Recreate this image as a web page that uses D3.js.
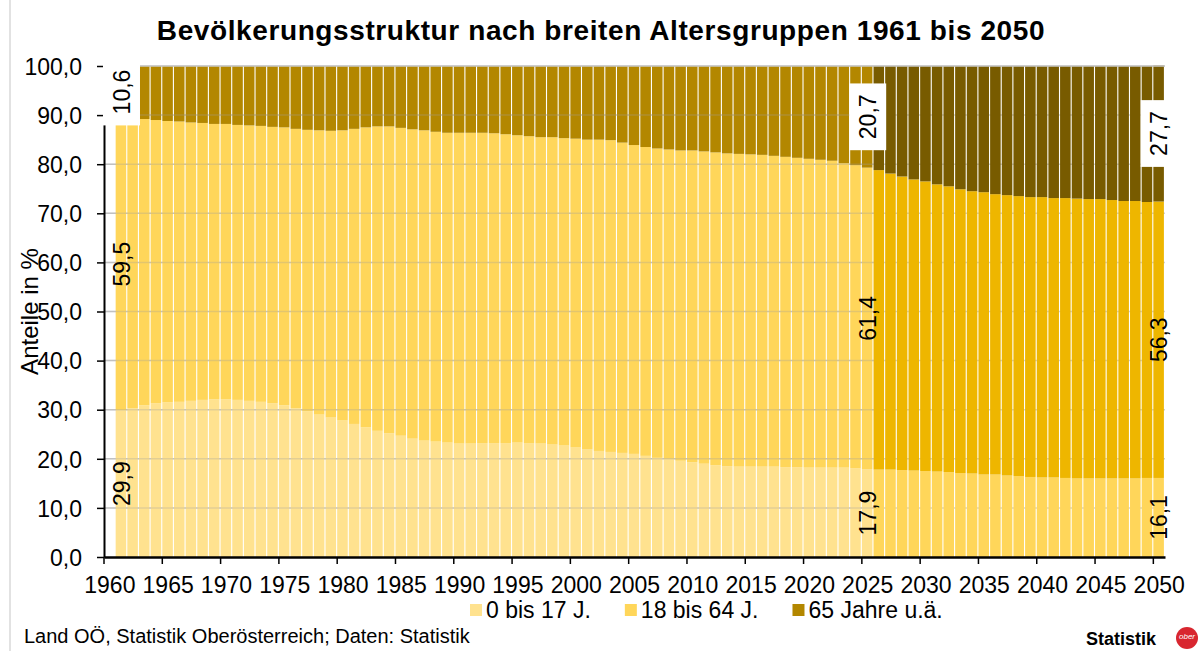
<!DOCTYPE html>
<html><head><meta charset="utf-8">
<script src="https://cdn.jsdelivr.net/npm/d3@7"></script>
<style>
body{margin:0;background:#fff}
svg{display:block}
text{font-family:"Liberation Sans",Arial,sans-serif;fill:#000}
</style>
</head><body>
<svg id="c" width="1199" height="651"></svg>
<script>
// ---- DATA ----
const years = [1961,1962,1963,1964,1965,1966,1967,1968,1969,1970,
1971,1972,1973,1974,1975,1976,1977,1978,1979,1980,
1981,1982,1983,1984,1985,1986,1987,1988,1989,1990,
1991,1992,1993,1994,1995,1996,1997,1998,1999,2000,
2001,2002,2003,2004,2005,2006,2007,2008,2009,2010,
2011,2012,2013,2014,2015,2016,2017,2018,2019,2020,
2021,2022,2023,2024,2025,2026,2027,2028,2029,2030,
2031,2032,2033,2034,2035,2036,2037,2038,2039,2040,
2041,2042,2043,2044,2045,2046,2047,2048,2049,2050];
// 0 bis 17 J.
const young = [29.9,30.3,30.9,31.3,31.5,31.6,31.8,32.0,32.1,32.1,
32.0,31.8,31.6,31.3,30.9,30.3,29.7,29.0,28.4,27.8,
27.1,26.4,25.7,25.2,24.7,24.1,23.7,23.5,23.3,23.1,
23.1,23.2,23.2,23.2,23.3,23.2,23.1,22.9,22.7,22.3,
21.9,21.6,21.4,21.2,21.0,20.6,20.2,20.0,19.6,19.3,
19.0,18.7,18.5,18.4,18.4,18.4,18.4,18.3,18.3,18.2,
18.2,18.2,18.2,18.1,17.9,17.8,17.8,17.7,17.6,17.5,
17.4,17.3,17.1,17.0,16.8,16.8,16.6,16.5,16.3,16.2,
16.2,16.1,16.0,16.0,16.0,16.0,16.0,16.0,16.1,16.1];
// 18 bis 64 J.
const working = [59.5,59.0,58.3,57.7,57.3,57.1,56.7,56.4,56.1,56.1,
56.0,56.1,56.2,56.3,56.6,56.9,57.3,57.9,58.4,59.1,
60.1,61.1,62.0,62.5,62.7,63.0,63.2,63.1,63.1,63.3,
63.3,63.2,63.1,62.9,62.6,62.5,62.4,62.6,62.6,62.9,
63.1,63.4,63.5,63.2,62.9,62.9,63.0,63.0,63.2,63.5,
63.6,63.7,63.7,63.7,63.6,63.5,63.3,63.2,63.0,62.9,
62.7,62.5,62.0,61.7,61.4,61.0,60.3,59.8,59.3,59.0,
58.5,58.2,57.8,57.5,57.5,57.1,57.1,57.0,57.0,57.1,
56.9,57.0,57.0,56.9,56.9,56.7,56.5,56.5,56.2,56.3];
// 65 Jahre u.ä.
const old = [10.6,10.7,10.8,11.0,11.2,11.3,11.5,11.6,11.8,11.8,
12.0,12.1,12.2,12.4,12.5,12.8,13.0,13.1,13.2,13.1,
12.8,12.5,12.3,12.3,12.6,12.9,13.1,13.4,13.6,13.6,
13.6,13.6,13.7,13.9,14.1,14.3,14.5,14.5,14.7,14.8,
15.0,15.0,15.1,15.6,16.1,16.5,16.8,17.0,17.2,17.2,
17.4,17.6,17.8,17.9,18.0,18.1,18.3,18.5,18.7,18.9,
19.1,19.3,19.8,20.2,20.7,21.2,21.9,22.5,23.1,23.5,
24.1,24.5,25.1,25.5,25.7,26.1,26.3,26.5,26.7,26.7,
26.9,26.9,27.0,27.1,27.1,27.3,27.5,27.5,27.7,27.7];

const projectionStart = 2026;
const axisYears = [1960].concat(years);
const xTickYears = [1960,1965,1970,1975,1980,1985,1990,1995,2000,2005,2010,2015,2020,2025,2030,2035,2040,2045,2050];
const yTicks = [0,10,20,30,40,50,60,70,80,90,100];
const keys = ["young","working","old"];
const seriesNames = ["0 bis 17 J.","18 bis 64 J.","65 Jahre u.ä."];
const histColors = ["#FFE28F","#FFD65A","#B38700"];
const projColors = ["#FFD65A","#EEB600","#785B00"];
const labelYears = [1961, 2025, 2050];
const title = "Bevölkerungsstruktur nach breiten Altersgruppen 1961 bis 2050";
const yTitle = "Anteile in %";
const source = "Land OÖ, Statistik Oberösterreich; Daten: Statistik";

// ---- CHART ----
const svg = d3.select("#c");
const fmt = v => v.toFixed(1).replace(".", ",");
const rows = years.map((y,i)=>({year:y, young:young[i], working:working[i], old:old[i]}));
const stack = d3.stack().keys(keys)(rows);

const x = d3.scaleBand().domain(axisYears).range([104, 1165]).padding(0);
const y = d3.scaleLinear().domain([0,100]).range([557, 66]);
const bw = x.bandwidth();

// frame line on left
svg.append("line").attr("x1",10).attr("x2",10).attr("y1",0).attr("y2",651)
  .attr("stroke","#d9d9d9").attr("stroke-width",1.5);

// title
svg.append("text").attr("x",601).attr("y",40).attr("text-anchor","middle")
  .style("font-weight","bold").style("font-size","28px").style("letter-spacing","0.6px").text(title);

// gridlines under bars
const gridG = svg.append("g");
gridG.selectAll("line").data(yTicks.filter(d=>d>0)).join("line")
  .attr("x1",x.range()[0]).attr("x2",x.range()[1])
  .attr("y1",d=>y(d)).attr("y2",d=>y(d))
  .attr("stroke","#d0d0d0").attr("stroke-width",1.5);

// bars
const barG = svg.append("g");
stack.forEach((layer, k) => {
  barG.selectAll(null).data(layer).join("rect")
    .attr("x", d => x(d.data.year))
    .attr("width", bw - 1.1)
    .attr("y", d => y(d[1]))
    .attr("height", d => y(d[0]) - y(d[1]))
    .attr("fill", d => d.data.year >= projectionStart ? projColors[k] : histColors[k]);
});

// faint gridlines visible through historical bars
svg.append("g").selectAll("line").data(yTicks.filter(d=>d>0 && d<100)).join("line")
  .attr("x1",x.range()[0]).attr("x2",x(projectionStart))
  .attr("y1",d=>y(d)).attr("y2",d=>y(d))
  .attr("stroke","#a0a0a0").attr("stroke-opacity",0.3).attr("stroke-width",1.5);
// top line
svg.append("line").attr("x1",x.range()[0]).attr("x2",x.range()[1])
  .attr("y1",y(100)).attr("y2",y(100)).attr("stroke","#c8c8c8").attr("stroke-width",1.5);

// y axis
const yAxis = svg.append("g").attr("transform","translate(104,0)")
  .call(d3.axisLeft(y).tickValues(yTicks).tickSize(7).tickSizeOuter(0).tickPadding(15).tickFormat(fmt));
yAxis.select(".domain").attr("stroke","#000").attr("stroke-width",2);
yAxis.selectAll(".tick line").attr("stroke","#000").attr("stroke-width",1.5);
yAxis.selectAll(".tick text").style("font-size","23px").attr("fill","#000").attr("dy","0.36em");

// x axis
const xAxis = svg.append("g").attr("transform","translate(0,557)")
  .call(d3.axisBottom(x).tickValues(xTickYears).tickSize(0).tickSizeOuter(0).tickPadding(20));
xAxis.select(".domain").attr("stroke","#000").attr("stroke-width",2.5);
xAxis.selectAll(".tick text").style("font-size","23px").attr("fill","#000");
xAxis.selectAll(".tick").append("line")
  .attr("x1",-bw/2).attr("x2",-bw/2).attr("y1",0).attr("y2",7)
  .attr("stroke","#000").attr("stroke-width",1.5);

// y title
svg.append("text").attr("transform",`translate(38,${(y(0)+y(100))/2}) rotate(-90)`)
  .attr("text-anchor","middle").style("font-size","24px").text(yTitle);

// data labels
const labG = svg.append("g");
labelYears.forEach(yr => {
  const i = years.indexOf(yr);
  stack.forEach((layer,k) => {
    const d = layer[i];
    const cx = x(yr) + bw/2, cy = y((d[0]+d[1])/2);
    const g = labG.append("g").attr("transform",`translate(${cx},${cy}) rotate(-90)`);
    const t = g.append("text").attr("text-anchor","middle").attr("dy","0.36em")
      .style("font-size","23px").text(fmt(d.data[keys[k]]));
    if (k === 2) {
      const len = t.node().getComputedTextLength();
      g.insert("rect","text").attr("x",-len/2-11).attr("y",-18.5)
        .attr("width",len+22).attr("height",37).attr("fill","#fff");
    }
  });
});

// legend
const lg = svg.append("g");
let lx = 470;
seriesNames.forEach((n,k) => {
  lg.append("rect").attr("x",lx).attr("y",604).attr("width",12).attr("height",12).attr("fill",histColors[k]);
  const t = lg.append("text").attr("x",lx+16).attr("y",618).style("font-size","23px").text(n);
  lx += 16 + t.node().getComputedTextLength() + 34;
});

// source
svg.append("text").attr("x",24).attr("y",643).style("font-size","20px").text(source);

// logo
svg.append("text").attr("x",1156).attr("y",645).attr("text-anchor","end")
  .style("font-size","18px").style("font-weight","bold").attr("fill","#333").text("Statistik");
svg.append("circle").attr("cx",1187).attr("cy",638).attr("r",11).attr("fill","#d8262f");
svg.append("text").attr("x",1187).attr("y",639).attr("text-anchor","middle")
  .style("font-size","8px").style("font-style","italic").style("fill","#fff").text("ober");
</script>
</body></html>
